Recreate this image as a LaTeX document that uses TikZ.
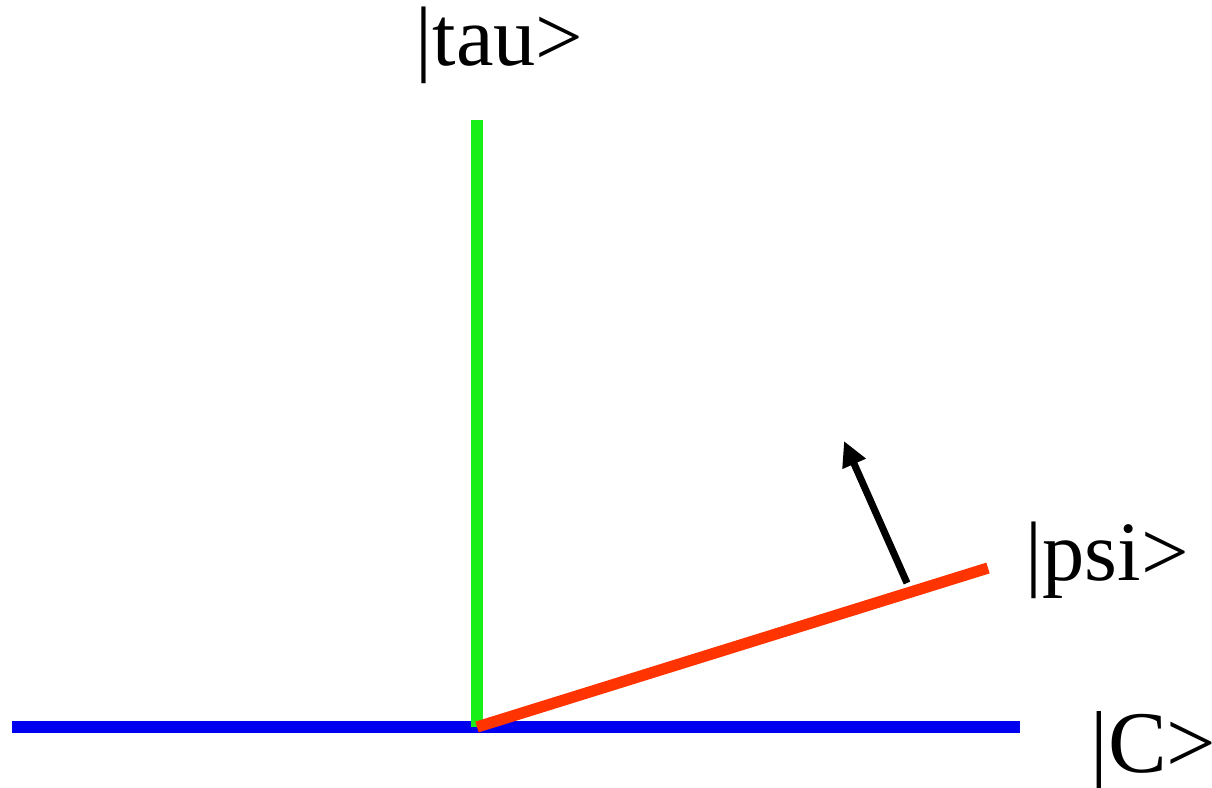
\documentclass[tikz,border=0pt]{standalone}
\usepackage{fontspec}
\setmainfont{Liberation Serif}
\usetikzlibrary{arrows.meta}
\definecolor{taugreen}{RGB}{24,238,24}
\definecolor{psired}{RGB}{255,52,0}
\definecolor{cblue}{RGB}{0,0,240}
\tikzset{
  ket/.style = {inner sep = 0, anchor = base west, font = \fontsize{24}{29}\selectfont},
  axis/.style = {line width = 3.2pt}
}
\begin{document}
\begin{tikzpicture}[x = 0.01cm, y = -0.01cm]
\useasboundingbox (0,0) rectangle (1212,787);
\coordinate (O) at (477,727);
\coordinate (Cl) at (12,727);
\coordinate (Cr) at (1020,727);
\coordinate (T) at (477,120);
\coordinate (P) at (988,568);
\coordinate (a1) at (907,583);
\coordinate (a2) at (844,441);
\draw[axis, cblue] (Cl) -- (Cr);
\draw[axis, taugreen] (O) -- (T);
\draw[axis, psired] (O) -- (P);
\draw[-{Triangle[length = 0.25cm, width = 0.24cm]}, line width = 2pt] (a1) -- (a2);
\node[ket] at (415,65) (tau) {|tau>};
\node[ket] at (1025,580) (psi) {|psi>};
\node[ket, font = \fontsize{25}{30}\selectfont] at (1090,772) (c) {|C>};
\end{tikzpicture}
\end{document}
